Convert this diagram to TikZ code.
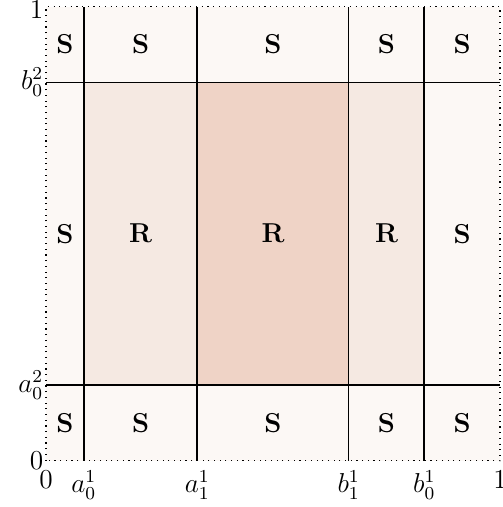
\documentclass[tikz,border=0pt]{standalone}
\definecolor{outerc}{RGB}{252,248,245}
\definecolor{midc}{RGB}{245,233,226}
\definecolor{innerc}{RGB}{239,211,198}
\begin{document}
\begin{tikzpicture}[x=7cm,y=7cm,
  gridline/.style={black,line width=0.75pt},
  cell/.style={font=\bfseries\fontsize{12}{14}\selectfont},
  ylab/.style={anchor=east,inner sep=1pt,font=\fontsize{12}{14}\selectfont},
  xlab/.style={anchor=north,inner sep=1pt,yshift=-3.4pt,font=\fontsize{12}{14}\selectfont}]
\useasboundingbox (-0.1013,-0.102) rectangle (1.0066,1.0148);
\fill[outerc] (0,0) rectangle (1,1);
\fill[midc] (1/12,1/6) rectangle (5/6,5/6);
\fill[innerc] (1/3,1/6) rectangle (2/3,5/6);
\draw[dotted,line width=0.5pt] (0,0) rectangle (1,1);
% coordinates
\coordinate (xa0b) at (1/12,0); \coordinate (xa0t) at (1/12,1);
\coordinate (xa1b) at (1/3,0);  \coordinate (xa1t) at (1/3,1);
\coordinate (xb1b) at (2/3,0);  \coordinate (xb1t) at (2/3,1);
\coordinate (xb0b) at (5/6,0);  \coordinate (xb0t) at (5/6,1);
\coordinate (ya0l) at (0,1/6);  \coordinate (ya0r) at (1,1/6);
\coordinate (yb0l) at (0,5/6);  \coordinate (yb0r) at (1,5/6);
\draw[gridline] (xa0b) -- (xa0t);
\draw[gridline] (xa1b) -- (xa1t);
\draw[gridline] (xb1b) -- (xb1t);
\draw[gridline] (xb0b) -- (xb0t);
\draw[gridline] (ya0l) -- (ya0r);
\draw[gridline] (yb0l) -- (yb0r);
% axis labels
\node[xlab] (x0) at (0,0) {$0$};
\node[xlab] (xa0) at (1/12,0) {$a_0^1$};
\node[xlab] (xa1) at (1/3,0) {$a_1^1$};
\node[xlab] (xb1) at (2/3,0) {$b_1^1$};
\node[xlab] (xb0) at (5/6,0) {$b_0^1$};
\node[xlab] (x1) at (1,0) {$1$};
\node[ylab] (y0) at (0,0) {$0$};
\node[ylab] (ya0) at (0,1/6) {$a_0^2$};
\node[ylab] (yb0) at (0,5/6) {$b_0^2$};
\node[ylab,yshift=-1.5pt] (y1) at (0,1) {$1$};
% cells
\foreach \cx/\nm in {0.041667/a, 0.208333/b, 0.5/c, 0.75/d, 0.916667/e}{
  \node[cell] (top\nm) at (\cx,0.916667) {S};
  \node[cell] (bot\nm) at (\cx,0.083333) {S};
}
\node[cell] (mida) at (0.041667,0.5) {S};
\node[cell] (midb) at (0.208333,0.5) {R};
\node[cell] (midc) at (0.5,0.5) {R};
\node[cell] (midd) at (0.75,0.5) {R};
\node[cell] (mide) at (0.916667,0.5) {S};
\end{tikzpicture}
\end{document}
